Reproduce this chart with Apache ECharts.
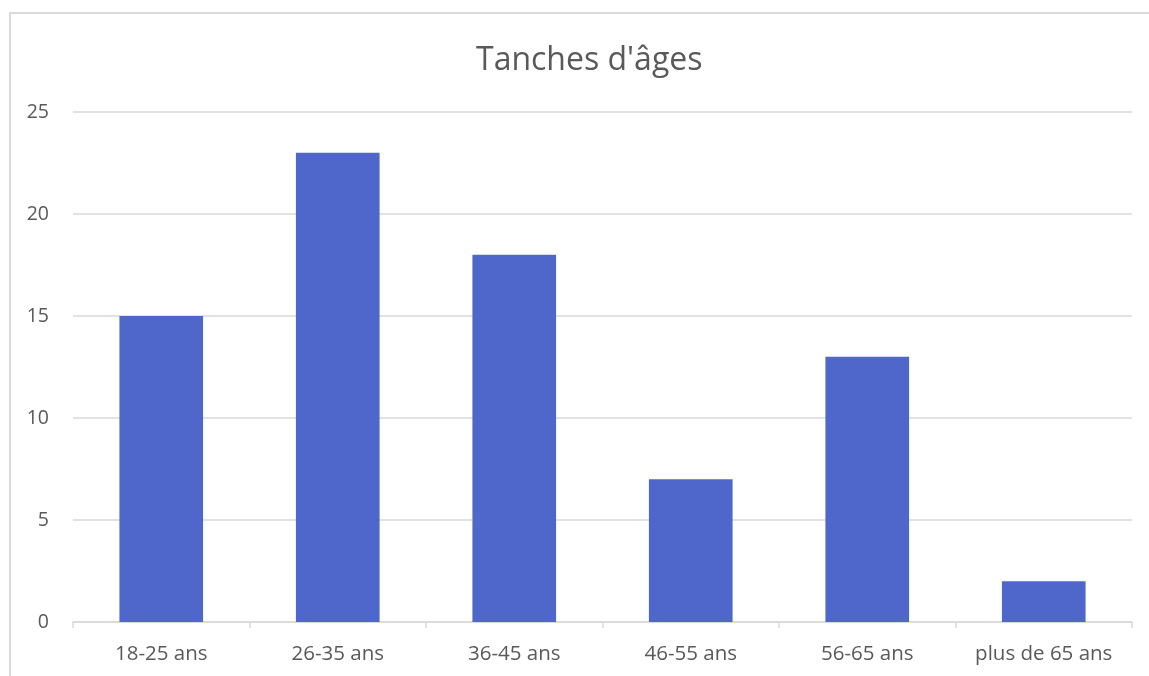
<!DOCTYPE html>
<html>
<head>
<meta charset="utf-8">
<script src="https://cdn.jsdelivr.net/npm/echarts@6/dist/echarts.min.js"></script>
<style>
html,body{margin:0;padding:0;background:#fff;}
#frame{position:absolute;left:9px;top:12px;width:1140px;height:664px;border-left:2px solid #d9d9d9;border-top:2px solid #d9d9d9;box-sizing:border-box;}
#chart{position:absolute;left:0;top:0;width:1149px;height:676px;}
</style>
</head>
<body>
<div id="frame"></div>
<div id="chart"></div>
<script>
const titleText = "Tanches d'âges";
const categories = ["18-25 ans", "26-35 ans", "36-45 ans", "46-55 ans", "56-65 ans", "plus de 65 ans"];
const values = [15, 23, 18, 7, 13, 2];
const yTicks = { min: 0, max: 25, interval: 5 };

const chart = echarts.init(document.getElementById('chart'), null, {renderer: 'canvas'});
chart.setOption({
  animation: false,
  backgroundColor: 'transparent',
  title: {
    text: titleText,
    left: 471,
    top: 40,
    textStyle: { fontFamily: 'Open Sans', fontSize: 32, fontWeight: 'normal', color: '#595959' }
  },
  grid: { left: 73, right: 17, top: 112, bottom: 54, containLabel: false },
  xAxis: {
    type: 'category',
    data: categories,
    axisLine: { lineStyle: { color: '#d9d9d9', width: 1.5 } },
    axisTick: { show: true, interval: 0, length: 6, lineStyle: { color: '#d9d9d9', width: 1.5 } },
    axisLabel: { interval: 0, hideOverlap: false, fontFamily: 'Open Sans', fontSize: 20.5, color: '#595959', margin: 22 }
  },
  yAxis: {
    type: 'value',
    min: yTicks.min, max: yTicks.max, interval: yTicks.interval,
    axisLine: { show: false },
    axisTick: { show: false },
    splitLine: { lineStyle: { color: '#d9d9d9', width: 1.5 } },
    axisLabel: { fontFamily: 'Open Sans', fontSize: 19.5, color: '#595959', margin: 24 }
  },
  series: [{
    type: 'bar',
    data: values,
    barWidth: '47.4%',
    itemStyle: { color: '#4f67ca' }
  }]
});
</script>
</body>
</html>
